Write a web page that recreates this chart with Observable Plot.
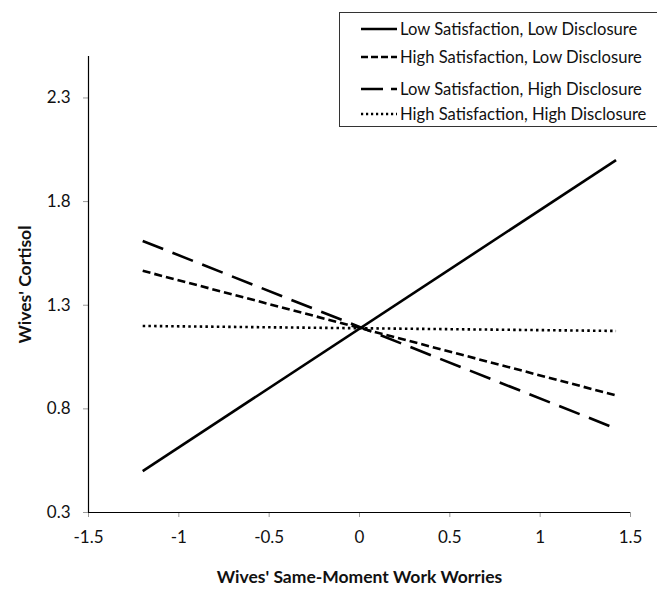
<!DOCTYPE html>
<html>
<head>
<meta charset="utf-8">
<script src="https://cdn.jsdelivr.net/npm/d3@7"></script>
<script src="https://cdn.jsdelivr.net/npm/@observablehq/plot@0.6"></script>
<style>
  html, body { margin: 0; padding: 0; background: #fff; }
  #wrap { position: relative; width: 657px; height: 592px; overflow: hidden; font-family: Lato, "Open Sans", sans-serif; }
  #legend { position: absolute; left: 339px; top: 12px; width: 340px; height: 115px; border: 1.5px solid #333; background: #fff; box-sizing: border-box; }
  .row { position: absolute; left: 0; height: 24px; display: flex; align-items: center; }
  .row span { font-size: 16.6px; color: #111; margin-left: 2px; white-space: nowrap; }
</style>
</head>
<body>
<div id="wrap"></div>
<script>
// ---- data ----
const worries = [-1.2, 1.42];
const seriesNames = [
  "Low Satisfaction, Low Disclosure",
  "High Satisfaction, Low Disclosure",
  "Low Satisfaction, High Disclosure",
  "High Satisfaction, High Disclosure"
];
const lowSatLowDisc = [0.50, 2.00];
const highSatLowDisc = [1.466, 0.865];
const lowSatHighDisc = [1.61, 0.705];
const highSatHighDisc = [1.20, 1.176];
const xTicks = [-1.5, -1, -0.5, 0, 0.5, 1, 1.5];
const yTicks = [0.3, 0.8, 1.3, 1.8, 2.3];

// ---- styles ----
const dashes = {
  "Low Satisfaction, Low Disclosure": null,
  "High Satisfaction, Low Disclosure": "8,4",
  "Low Satisfaction, High Disclosure": "22,10",
  "High Satisfaction, High Disclosure": "2.5,3.2"
};
const legendDashes = {
  "Low Satisfaction, Low Disclosure": null,
  "High Satisfaction, Low Disclosure": "7,3",
  "Low Satisfaction, High Disclosure": "22,8",
  "High Satisfaction, High Disclosure": "2.2,2.8"
};

const values = [lowSatLowDisc, highSatLowDisc, lowSatHighDisc, highSatHighDisc];
const rows = [];
seriesNames.forEach((s, i) => worries.forEach((w, j) => rows.push({series: s, x: w, y: values[i][j]})));

const fmt = d => String(d);

const lineMarks = seriesNames.map(s =>
  Plot.line(rows.filter(r => r.series === s), {
    x: "x", y: "y", stroke: "#000", strokeWidth: 2.6,
    strokeDasharray: dashes[s] || undefined, strokeLinecap: "butt"
  })
);

const chart = Plot.plot({
  width: 657,
  height: 592,
  marginLeft: 88,
  marginRight: 27,
  marginTop: 56,
  marginBottom: 80,
  style: { fontFamily: "Lato, 'Open Sans', sans-serif", fontSize: "17px", color: "#111", background: "#fff" },
  x: { domain: [-1.5, 1.5] },
  y: { domain: [0.3, 2.5] },
  marks: [
    Plot.axisX({
      ticks: xTicks, tickSize: 5, tickPadding: 13, stroke: "#999", tickFormat: fmt,
      label: "Wives' Same-Moment Work Worries", labelAnchor: "center", labelOffset: 70, labelArrow: "none",
      fontSize: 17
    }),
    Plot.axisY({
      ticks: yTicks, tickSize: 5, tickPadding: 13, stroke: "#999", tickFormat: fmt,
      label: "Wives' Cortisol", labelAnchor: "center", labelOffset: 70, labelArrow: "none",
      fontSize: 17
    }),
    Plot.ruleX([-1.5], { stroke: "#000", strokeWidth: 1.2 }),
    Plot.ruleY([0.3], { stroke: "#000", strokeWidth: 1.2 }),
    ...lineMarks
  ]
});

// Bold axis titles
chart.querySelectorAll("g[aria-label='x-axis label'] text, g[aria-label='y-axis label'] text").forEach(t => {
  t.setAttribute("font-weight", "bold");
  t.setAttribute("font-size", "17.5px");
});

const wrap = document.getElementById("wrap");
wrap.appendChild(chart);

// legend
const legend = document.createElement("div");
legend.id = "legend";
const rowTops = [4, 32, 64, 89];
seriesNames.forEach((s, i) => {
  const r = document.createElement("div");
  r.className = "row";
  r.style.top = rowTops[i] + "px";
  const ns = "http://www.w3.org/2000/svg";
  const svg = document.createElementNS(ns, "svg");
  svg.setAttribute("width", "58"); svg.setAttribute("height", "24");
  const ln = document.createElementNS(ns, "line");
  ln.setAttribute("x1", "21"); ln.setAttribute("x2", "57");
  ln.setAttribute("y1", "12"); ln.setAttribute("y2", "12");
  ln.setAttribute("stroke", "#000"); ln.setAttribute("stroke-width", "2.6");
  if (legendDashes[s]) ln.setAttribute("stroke-dasharray", legendDashes[s]);
  svg.appendChild(ln);
  r.appendChild(svg);
  const sp = document.createElement("span");
  sp.textContent = s;
  r.appendChild(sp);
  legend.appendChild(r);
});
wrap.appendChild(legend);
</script>
</body>
</html>
